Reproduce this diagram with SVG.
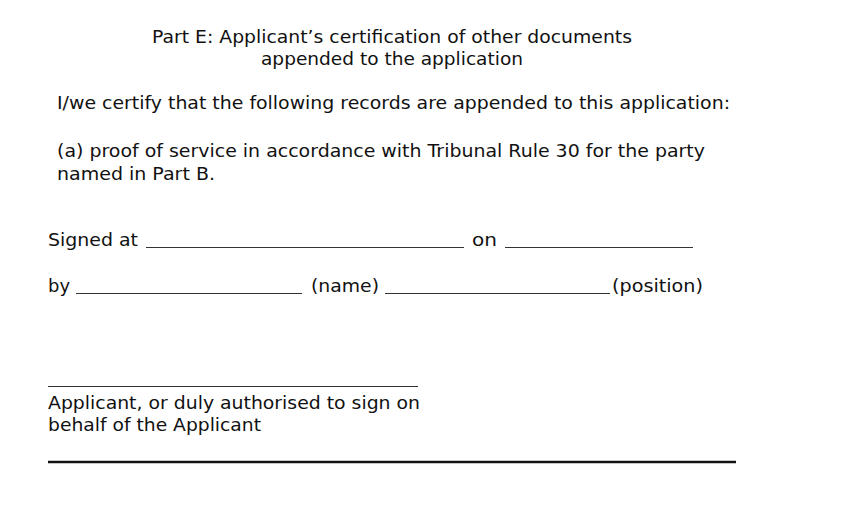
<svg xmlns="http://www.w3.org/2000/svg" width="852" height="524" viewBox="0 0 852 524">
<style>
text{font-family:"DejaVu Sans","Verdana",sans-serif;font-size:17px;fill:#111}
.l{stroke:#333;stroke-width:1}
</style>
<rect width="852" height="524" fill="#fff"/>
<text x="152" y="43" textLength="480" lengthAdjust="spacingAndGlyphs">Part E: Applicant’s certification of other documents</text>
<text x="261" y="65" textLength="262" lengthAdjust="spacingAndGlyphs">appended to the application</text>
<text x="57" y="109" textLength="673" lengthAdjust="spacingAndGlyphs">I/we certify that the following records are appended to this application:</text>
<text x="57" y="157" textLength="648" lengthAdjust="spacingAndGlyphs">(a) proof of service in accordance with Tribunal Rule 30 for the party</text>
<text x="57" y="180" textLength="158" lengthAdjust="spacingAndGlyphs">named in Part B.</text>
<text x="48" y="246" textLength="90" lengthAdjust="spacingAndGlyphs">Signed at</text>
<line class="l" x1="146" y1="247.5" x2="464" y2="247.5"/>
<text x="472" y="246" textLength="25" lengthAdjust="spacingAndGlyphs">on</text>
<line class="l" x1="505" y1="247.5" x2="693" y2="247.5"/>
<text x="48" y="292" textLength="22" lengthAdjust="spacingAndGlyphs">by</text>
<line class="l" x1="76" y1="293.5" x2="302" y2="293.5"/>
<text x="311" y="292" textLength="68" lengthAdjust="spacingAndGlyphs">(name)</text>
<line class="l" x1="385" y1="293.5" x2="610" y2="293.5"/>
<text x="612" y="292" textLength="91" lengthAdjust="spacingAndGlyphs">(position)</text>
<line class="l" x1="48" y1="386.5" x2="418" y2="386.5"/>
<text x="48" y="409" textLength="372" lengthAdjust="spacingAndGlyphs">Applicant, or duly authorised to sign on</text>
<text x="48" y="431" textLength="213" lengthAdjust="spacingAndGlyphs">behalf of the Applicant</text>
<line x1="48" y1="462" x2="736" y2="462" stroke="#111" stroke-width="2.5"/>
</svg>
